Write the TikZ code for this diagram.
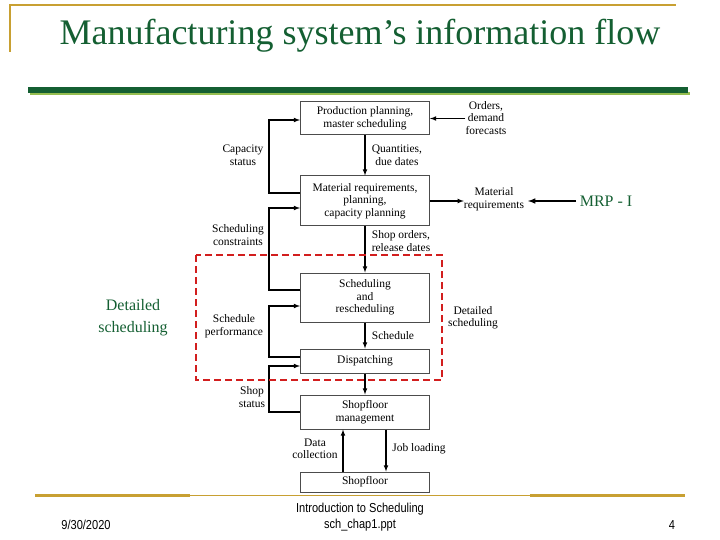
\documentclass[tikz,border=0pt]{standalone}
\usepackage{fontspec}
\setmainfont{Liberation Serif}
\newfontfamily\footfont{Liberation Sans}[FakeStretch=0.85]
\usetikzlibrary{positioning}
\definecolor{gold}{RGB}{200,160,50}
\definecolor{dgreen}{RGB}{20,95,50}
\definecolor{lgreen}{RGB}{150,190,80}
\definecolor{dred}{RGB}{210,30,30}
\tikzset{
  blk/.style={draw, line width=1pt, black!70, text=black, minimum width=129pt, align=center, inner sep=1pt, font=\fontsize{11.5}{12.5}\selectfont},
  lbl/.style={align=center, inner sep=0pt, font=\fontsize{11.5}{12.5}\selectfont},
  flow/.style={->, >=latex, line width=1.1pt}
}
\begin{document}
\begin{tikzpicture}[x=1pt,y=-1pt]
          \useasboundingbox (0,0) rectangle (720,540);
        %Slide frame
          \draw [gold, line width=2pt] (10,52) -- (10,5) -- (676,5);
          \node (title) [text=dgreen, font=\fontsize{36}{38}\selectfont] at (360,36) {Manufacturing system’s information flow};
          \fill [lgreen] (30,92) rectangle (690,95);
          \fill [dgreen] (28,87) rectangle (688,93);
          \draw [gold, line width=3pt] (35,495) -- (190,495);
          \draw [gold, line width=3pt] (530,495) -- (685,495);
          \draw [gold, line width=0.7pt] (190,495) -- (530,495);
          \node (date) [font=\footfont\fontsize{13}{15}\selectfont] at (86,525) {9/30/2020};
          \node (foot) [align=center, font=\footfont\fontsize{13}{16}\selectfont] at (360,517) {Introduction to Scheduling\\sch\_chap1.ppt};
          \node (page) [font=\footfont\fontsize{13}{15}\selectfont] at (672,525) {4};
        %Boxes
          \node (pp)  [blk, minimum height=33pt] at (365,118.5) {Production planning,\\master scheduling};
          \node (mrp) [blk, minimum height=50pt] at (365,201) {Material requirements,\\planning,\\capacity planning};
          \node (sch) [blk, minimum height=49pt] at (365,297.5) {Scheduling\\and\\rescheduling};
          \node (dis) [blk, minimum height=24pt] at (365,361) {Dispatching};
          \node (sfm) [blk, minimum height=34pt] at (365,412) {Shopfloor\\management};
          \node (sf)  [blk, minimum height=20pt] at (365,482) {Shopfloor};
        %Labels
          \node (ord) [lbl] at (486,118) {Orders,\\demand\\forecasts};
          \node (mat) [lbl] at (494,199) {Material\\requirements};
          \node (cap) [lbl] at (243,155) {Capacity\\status};
          \node (qty) [lbl] at (397,155) {Quantities,\\due dates};
          \node (con) [lbl] at (238,235) {Scheduling\\constraints};
          \node (rel) [lbl] at (401,241) {Shop orders,\\release dates};
          \node (per) [lbl] at (234,326) {Schedule\\performance};
          \node (sce) [lbl] at (393,336) {Schedule};
          \node (sst) [lbl] at (252,397) {Shop\\status};
          \node (dat) [lbl] at (315,449) {Data\\collection};
          \node (job) [lbl] at (419,449) {Job loading};
          \node (det) [lbl] at (473,318) {Detailed\\scheduling};
        %Traits et Fleches
          \draw [flow] (pp) -- (mrp);
          \draw [flow] (mrp) -- (sch);
          \draw [flow] (sch) -- (dis);
          \draw [flow] (dis) -- (sfm);
          \draw [flow] ([xshift=21pt]sfm.south) -- ([xshift=21pt]sf.north);
          \draw [flow] ([xshift=-22pt]sf.north) -- ([xshift=-22pt]sfm.south);
          \draw [flow] (ord.west |- pp.east) -- (pp.east);
          \draw [flow] (mrp.east) -- (mat.west |- mrp.east);
          \draw [flow] ([yshift=8pt]mrp.west) -- ++(-31,0) |- ([yshift=-1.5pt]pp.west);
          \draw [flow] ([yshift=7.5pt]sch.west) -- ++(-31,0) |- ([yshift=-7pt]mrp.west);
          \draw [flow] ([yshift=4pt]dis.west) -- ++(-31,0) |- ([yshift=-8.5pt]sch.west);
          \draw [flow] (sfm.west) -- ++(-31,0) |- ([yshift=-5pt]dis.west);
        %Detailed scheduling frame
          \draw [dred, line width=2.5pt, dash pattern=on 7pt off 4pt] (196,255) rectangle (442,380);
          \node (dsl) [align=center, text=dgreen, font=\fontsize{16}{22}\selectfont] at (133,318) {Detailed\\scheduling};
          \node (mrpi) [text=dgreen, font=\fontsize{16}{18}\selectfont] at (606,201) {MRP - I};
          \draw [->, >=latex, line width=1.5pt] (mrpi.west) -- (528,201);
\end{tikzpicture}
\end{document}
